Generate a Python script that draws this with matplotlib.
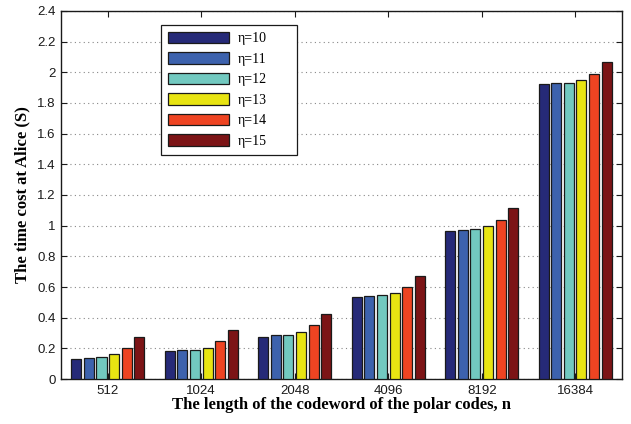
import matplotlib
matplotlib.use("Agg")
import matplotlib.pyplot as plt
import numpy as np

# codeword lengths and time cost per eta value
lengths = ["512", "1024", "2048", "4096", "8192", "16384"]
eta_labels = ["\u03b7=10", "\u03b7=11", "\u03b7=12", "\u03b7=13", "\u03b7=14", "\u03b7=15"]
eta10 = [0.131, 0.181, 0.273, 0.535, 0.968, 1.924]
eta11 = [0.138, 0.188, 0.286, 0.540, 0.975, 1.928]
eta12 = [0.144, 0.192, 0.286, 0.546, 0.981, 1.928]
eta13 = [0.164, 0.205, 0.308, 0.560, 0.997, 1.948]
eta14 = [0.199, 0.247, 0.350, 0.601, 1.038, 1.989]
eta15 = [0.273, 0.321, 0.424, 0.675, 1.113, 2.065]
series = [eta10, eta11, eta12, eta13, eta14, eta15]
colors = ["#262a78", "#3d62ad", "#72c9c0", "#e8e412", "#ee4422", "#7c1416"]

fig = plt.figure(figsize=(6.31, 4.24), dpi=100)
ax = fig.add_axes([0.0967, 0.1061, 0.889, 0.868])

x = np.arange(1, len(lengths) + 1)
step = 0.134
width = 0.107
for i, (vals, c, lab) in enumerate(zip(series, colors, eta_labels)):
    ax.bar(x + (i - 2.5) * step, vals, width=width, color=c, edgecolor="#1a1a1a",
           linewidth=0.9, label=lab, zorder=3)

ax.set_xlim(0.5, 6.5)
ax.set_ylim(0, 2.4)
ax.set_yticks(np.arange(0, 2.41, 0.2))
ax.set_yticklabels(["0", "0.2", "0.4", "0.6", "0.8", "1", "1.2", "1.4", "1.6",
                    "1.8", "2", "2.2", "2.4"])
ax.set_xticks(x)
ax.set_xticklabels(lengths)
ax.tick_params(direction="in", right=True, top=True, length=4, width=0.8,
               labelsize=9.5, colors="#1a1a1a", pad=4)
for t in ax.get_xticklabels() + ax.get_yticklabels():
    t.set_family("Liberation Sans")
ax.yaxis.grid(True, linestyle=(0, (1, 3)), color="#888888", linewidth=0.8, zorder=0)
for s in ax.spines.values():
    s.set_linewidth(1.0)
    s.set_color("#1a1a1a")

ax.set_xlabel("The length of the codeword of the polar codes, n",
              family="Liberation Serif", fontweight="bold", fontsize=12, labelpad=0)
ax.set_ylabel("The time cost at Alice (S)",
              family="Liberation Serif", fontweight="bold", fontsize=12, labelpad=5)

leg = ax.legend(loc="upper left", bbox_to_anchor=(0.178, 0.962, 0.2424, 0.0),
                mode="expand", borderaxespad=0,
                prop={"family": "Liberation Serif", "size": 10},
                handlelength=4.4, handleheight=0.9, labelspacing=0.5,
                fancybox=False, framealpha=1, edgecolor="#1a1a1a",
                borderpad=0.5, handletextpad=0.65)
leg.get_frame().set_linewidth(0.9)

fig.savefig("out.png", dpi=100)
